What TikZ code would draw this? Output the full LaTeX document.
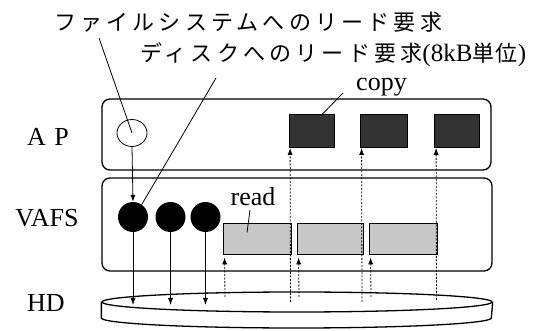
\documentclass[tikz,border=0pt]{standalone}
\usepackage{fontspec}
\setmainfont{Liberation Serif}
\newfontfamily\jp[LetterSpace=19]{Noto Sans CJK JP}
\newfontfamily\jpn[LetterSpace=6]{Noto Sans CJK JP}
\usetikzlibrary{arrows.meta,shapes.geometric}
\begin{document}
\begin{tikzpicture}[x=1pt,y=-1pt,
  layer/.style={draw, line width=1.3pt, rounded corners=8pt, inner sep=0},
  lbl/.style={font=\fontsize{26}{28}\selectfont, inner sep=0},
  jplabel/.style={font=\fontsize{22}{24}\selectfont, inner sep=0, anchor=west},
  darkblk/.style={fill=black!80, draw=black, line width=0.8pt, minimum height=33pt, inner sep=0},
  readblk/.style={fill=black!22, draw=black, line width=0.8pt, minimum height=31pt, inner sep=0},
  ball/.style={circle, fill=black, minimum size=30pt, inner sep=0},
  solidarrow/.style={-{Latex[length=7pt,width=5pt]}, line width=0.8pt},
  dotarrow/.style={-{Latex[length=7pt,width=5pt]}, line width=0.8pt, dash pattern=on 2pt off 1.5pt},
  leader/.style={line width=0.8pt},
  hdline/.style={line width=1.3pt}]
\useasboundingbox (0,0) rectangle (555,331);
\fill[white] (0,0) rectangle (555,331);

% layers
\node[layer, minimum width=389pt, minimum height=71pt] (ap) at (296.5,134.5) {};
\node[layer, minimum width=390pt, minimum height=93pt] (vafs) at (297,224.5) {};
\node[draw, ellipse, hdline, minimum width=390pt, minimum height=20pt, inner sep=0] (hd) at (297,302) {};
\draw[hdline] (hd.west) -- ++(0,16) arc[start angle=180, end angle=0, x radius=195, y radius=10] -- (hd.east);

% side labels
\node[lbl] (lap) at (48,137) {A\,\,P};
\node[lbl] (lvafs) at (47,218) {VAFS};
\node[lbl] (lhd) at (46,303) {HD};

% top texts
\node[jplabel] (t1) at (54,22) {\jp ファイルシステムへのリード要求};
\node[jplabel] (t2) at (140,55) {\jp ディスクへのリード要求\rmfamily\fontsize{25}{27}\selectfont(8kB\jpn\fontsize{22}{24}\selectfont 単位\rmfamily\fontsize{25}{27}\selectfont)};
\node[lbl, anchor=base] (copy) at (381.5,91) {copy};
\node[lbl] (read) at (253,197) {read};

% AP contents
\node[draw, ellipse, line width=0.8pt, minimum width=30pt, minimum height=27pt, inner sep=0] (opc) at (132,133) {};
\node[darkblk, minimum width=45pt] (sq1) at (311.5,131) {};
\node[darkblk, minimum width=47pt] (sq2) at (383.5,131) {};
\node[darkblk, minimum width=45pt] (sq3) at (457,131) {};

% VAFS contents
\node[ball] (b1) at (133,217) {};
\node[ball] (b2) at (170.5,217) {};
\node[ball] (b3) at (205.5,217) {};
\node[readblk, minimum width=68pt] (rd1) at (257,238.5) {};
\node[readblk, minimum width=66pt] (rd2) at (330,238.5) {};
\node[readblk, minimum width=68pt] (rd3) at (403,238.5) {};

% coordinates
\coordinate (l1) at (99,38);
\coordinate (l2) at (216,78);
\coordinate (lc) at (343,93);
\coordinate (lr) at (250,210);
\coordinate (h1) at (133,305);
\coordinate (h2) at (170.5,305);
\coordinate (h3) at (205.5,305);
\coordinate (d1) at (225,297);
\coordinate (d2) at (290.5,302);
\coordinate (d3) at (299,297);
\coordinate (d4) at (362,302);
\coordinate (d5) at (371,297);
\coordinate (d6) at (436.5,300);

% leaders
\draw[leader] (l1) -- (opc.center);
\draw[leader] (l2) -- (b1.55);
\draw[leader] (lc) -- ([xshift=10pt,yshift=-1pt]sq1.north);
\draw[leader] (lr) -- ([xshift=-10pt,yshift=-10pt]rd1.north);

% solid arrows
\draw[solidarrow] (opc.south) -- (b1.north);
\draw[solidarrow] (b1.south) -- (h1);
\draw[solidarrow] (b2.south) -- (h2);
\draw[solidarrow] (b3.south) -- (h3);

% dotted arrows
\draw[dotarrow] (d1) -- ([xshift=2pt,yshift=-3pt]rd1.south west);
\draw[dotarrow] (d2) -- ([xshift=1.5pt]sq1.south west);
\draw[dotarrow] (d3) -- ([xshift=2pt,yshift=-3pt]rd2.south west);
\draw[dotarrow] (d4) -- ([xshift=2pt]sq2.south west);
\draw[dotarrow] (d5) -- ([xshift=2pt,yshift=-3pt]rd3.south west);
\draw[dotarrow] (d6) -- ([xshift=2pt]sq3.south west);
\end{tikzpicture}
\end{document}
